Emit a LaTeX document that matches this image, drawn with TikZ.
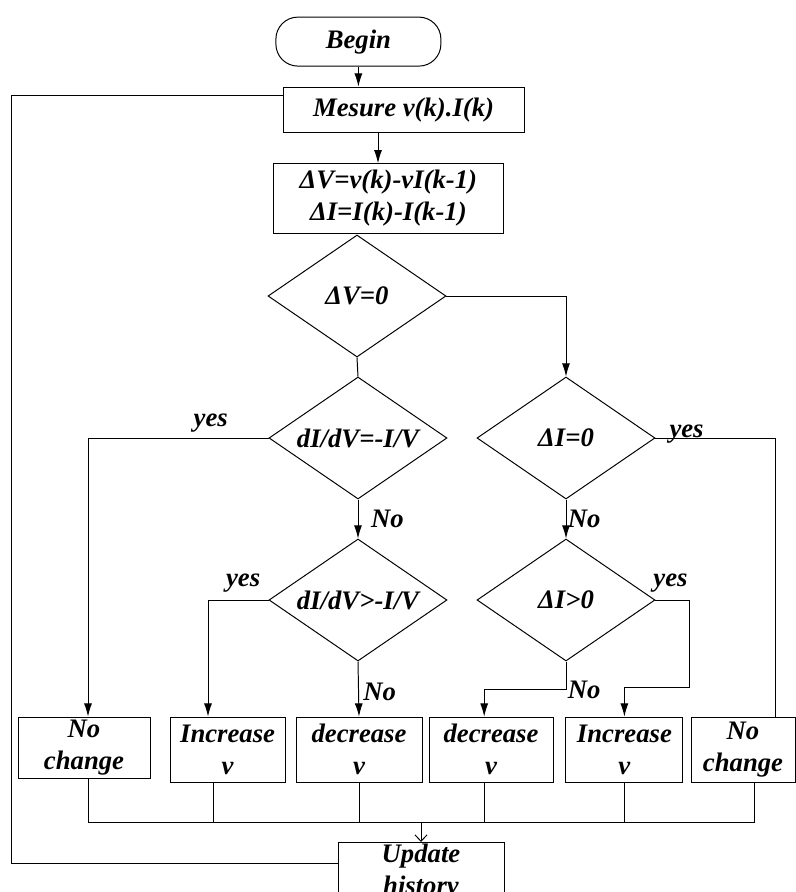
\documentclass[tikz,border=0pt]{standalone}
\usepackage{fontspec}
\setmainfont{Liberation Serif}
\usetikzlibrary{arrows.meta,positioning,calc,shapes.geometric}

\begin{document}
\begin{tikzpicture}[>=Latex,
 font=\fontsize{19}{23}\selectfont\bfseries\itshape,
 box/.style={draw,line width=0.7pt,align=center,inner sep=1pt},
 dec/.style={diamond,draw,line width=0.7pt,aspect=1.46,minimum width=4.45cm,minimum height=3.05cm,inner sep=0pt,align=center},
 a/.style={-{Latex[length=3.3mm,width=2mm]},line width=0.7pt},
 l/.style={line width=0.7pt},
 lbl/.style={inner sep=1pt}]
\useasboundingbox (0,0) rectangle (19.875,-22.3);
\node[box,rounded corners=0.55cm,minimum width=4.125cm,minimum height=1.225cm] (begin) at (8.96,-1.04) {Begin};
\node[box,minimum width=6.03cm,minimum height=1.125cm] (mes) at (10.09,-2.74) {Mesure v(k).I(k)};
\node[box,minimum width=5.73cm,minimum height=1.73cm] (delta) at (9.71,-4.96) {ΔV=v(k)-vI(k-1)\\ΔI=I(k)-I(k-1)};

\node[dec] (dv0) at (8.925,-7.40) {ΔV=0};
\node[dec] (eq) at (8.95,-10.95) {dI/dV=-I/V};
\node[dec] (di0) at (14.15,-10.95) {ΔI=0};
\node[dec] (gt) at (8.95,-15.0) {dI/dV>-I/V};
\node[dec] (digt) at (14.15,-15.0) {ΔI>0};

\node[box,minimum width=3.3cm,minimum height=1.525cm] (nc1) at (2.1,-18.69) {No\\change};
\node[box,minimum width=2.875cm,minimum height=1.625cm] (inc1) at (5.69,-18.74) {Increase\\v};
\node[box,minimum width=3.15cm,minimum height=1.625cm] (dec1) at (8.975,-18.74) {decrease\\v};
\node[box,minimum width=3.1cm,minimum height=1.625cm] (dec2) at (12.275,-18.74) {decrease\\v};
\node[box,minimum width=2.925cm,minimum height=1.625cm] (inc2) at (15.61,-18.74) {Increase\\v};
\node[box,minimum width=2.6cm,minimum height=1.625cm] (nc2) at (18.575,-18.74) {No\\change};
\node[box,anchor=north,minimum width=4.15cm] (upd) at (10.525,-21.05) {Update\\history};

% top part
\draw[a] (begin.south) -- (begin.south |- mes.north);
\draw[a] ([xshift=-0.64cm]mes.south) -- ([xshift=-0.64cm]mes.south |- delta.north);
\draw[a] (dv0.east) -| (di0.north);
\draw[l] (dv0.south) -- (eq.north);

% decisions
\draw[a] (eq.west) -| node[lbl,above=3pt,pos=0.16] (yesA) {yes} ([xshift=0.1cm]nc1.north);
\draw[a] (eq.south) -- node[lbl,right=8pt] (noA) {No} (gt.north);
\draw[l] (di0.east) -| node[lbl,above=-5pt,pos=0.13] (yesB) {yes} ([xshift=0.8cm]nc2.north);
\draw[a] (di0.south) -- node[lbl,right=0pt] (noB) {No} (digt.north);
\draw[a] (gt.west) -| node[lbl,above=4pt,pos=0.21] (yesC) {yes} ([xshift=-0.49cm]inc1.north);
\draw[a] (gt.south) -- node[lbl,right=2pt,pos=0.55] (noC) {No} (dec1.north);
\draw[a] (digt.east) -- ++(0.85,0) node[lbl,above left=4pt and 0pt] (yesD) {yes} -- ++(0,-2.175) -| (inc2.north);
\draw[a] (digt.south) -- ++(0,-0.7) node[lbl,right] (noD) {No} -| ([xshift=-0.17cm]dec2.north);

% merge and feedback
\coordinate (jn) at (10.525,-20.55);
\draw[l] ([xshift=0.12cm]nc1.south) -- ([xshift=0.12cm]nc1.south |- jn) -- ([xshift=0.28cm]nc2.south |- jn) -- ([xshift=0.28cm]nc2.south);
\draw[l] ([xshift=-0.36cm]inc1.south) -- ([xshift=-0.36cm]inc1.south |- jn);
\draw[l] (dec1.south) -- (dec1.south |- jn);
\draw[l] ([xshift=-0.17cm]dec2.south) -- ([xshift=-0.17cm]dec2.south |- jn);
\draw[l] (inc2.south) -- (inc2.south |- jn);
\draw[l,-{Straight Barb[length=1.6mm,width=3mm]}] (jn) -- (upd.north);
\draw[l] ([yshift=-0.525cm]upd.north west) -- ++(-8.15,0) |- ([yshift=0.365cm]mes.west);
\end{tikzpicture}
\end{document}
